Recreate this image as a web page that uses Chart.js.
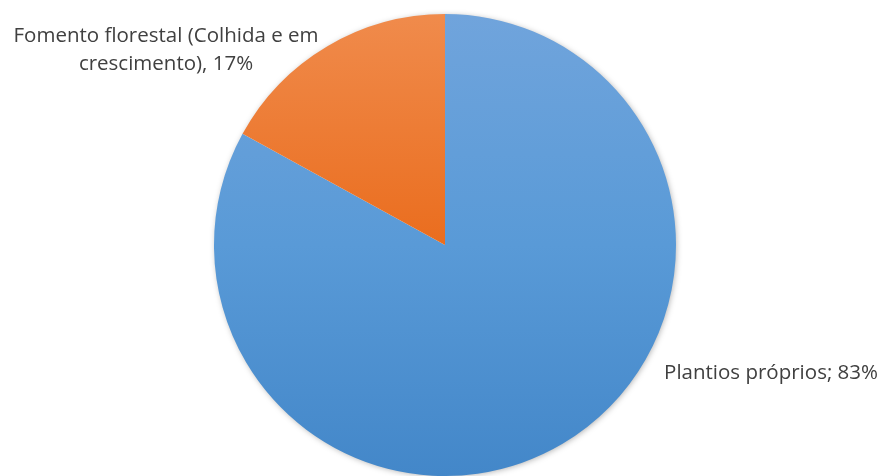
<!DOCTYPE html>
<html>
<head>
<meta charset="utf-8">
<script src="https://cdn.jsdelivr.net/npm/chart.js@4"></script>
<style>
  html, body { margin: 0; padding: 0; background: #fff; }
  #wrap { width: 884px; height: 476px; position: relative; }
</style>
</head>
<body>
<div id="wrap"><canvas id="pizza"></canvas></div>
<script>
// Área por origem da madeira (%)
const categorias = ['Plantios próprios', 'Fomento florestal (Colhida e em crescimento)'];
const valores = [83, 17];

// rótulos como aparecem no gráfico (linhas quebradas)
const rotulos = [
    ['Plantios próprios; ' + valores[0] + '%'],
    ['Fomento florestal (Colhida e em', 'crescimento), ' + valores[1] + '%']
];

// cores de cada fatia: topo, meio, base do degradê
const cores = [
    ['#70a4dc', '#599ad7', '#4387c9'],
    ['#f08b4c', '#ea6d1e', '#e05f0c']
];

const ctx = document.getElementById('pizza').getContext('2d');

function gradiente(c) {
    const chart = c.chart;
    const area = chart.chartArea;
    const cor = cores[c.dataIndex];
    if (!area) return cor[1];
    const g = chart.ctx.createLinearGradient(0, area.top, 0, area.bottom);
    g.addColorStop(0, cor[0]);
    g.addColorStop(0.5, cor[1]);
    g.addColorStop(1, cor[2]);
    return g;
}

// sombra suave em volta da pizza
const sombra = {
    id: 'sombra',
    beforeDatasetsDraw(chart) {
        const arc = chart.getDatasetMeta(0).data[0];
        if (!arc) return;
        const c = chart.ctx;
        c.save();
        c.shadowColor = 'rgba(0,0,0,0.35)';
        c.shadowBlur = 6;
        c.shadowOffsetX = 1;
        c.shadowOffsetY = 1;
        c.fillStyle = '#ffffff';
        c.beginPath();
        c.arc(arc.x, arc.y, arc.outerRadius - 1, 0, Math.PI * 2);
        c.fill();
        c.restore();
    }
};

// rótulos de dados fora das fatias
const rotulosDados = {
    id: 'rotulosDados',
    afterDatasetsDraw(chart, args, opts) {
        const meta = chart.getDatasetMeta(0);
        const c = chart.ctx;
        c.save();
        c.font = opts.font;
        c.fillStyle = opts.color;
        c.textBaseline = 'middle';
        meta.data.forEach((arc, i) => {
            const pos = opts.posicoes[i];
            c.textAlign = pos.align;
            const x = arc.x + pos.dx;
            const y = arc.y + pos.dy;
            rotulos[i].forEach((linha, j) => {
                c.fillText(linha, x, y + j * opts.entrelinha);
            });
        });
        c.restore();
    }
};

new Chart(ctx, {
    type: 'pie',
    data: {
        labels: categorias,
        datasets: [{
            data: valores,
            backgroundColor: gradiente,
            borderWidth: 0
        }]
    },
    options: {
        responsive: true,
        maintainAspectRatio: false,
        animation: false,
        layout: { padding: { top: 14, bottom: 0, left: 6, right: 0 } },
        plugins: {
            legend: { display: false },
            tooltip: { enabled: false },
            rotulosDados: {
                font: '20.5px "Open Sans"',
                color: '#404040',
                entrelinha: 28,
                posicoes: [
                    { dx: 433, dy: 128, align: 'right' },
                    { dx: -279, dy: -209, align: 'center' }
                ]
            }
        }
    },
    plugins: [sombra, rotulosDados]
});
</script>
</body>
</html>
